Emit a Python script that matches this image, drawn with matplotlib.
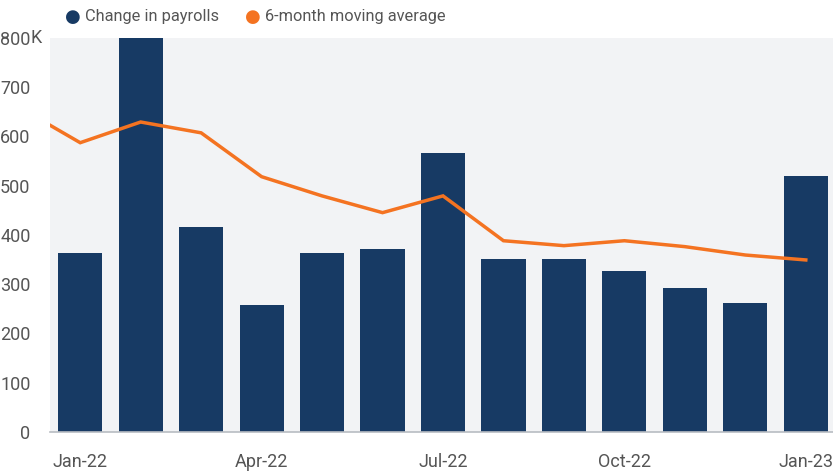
import numpy as np
import matplotlib
matplotlib.use('Agg')
import matplotlib.pyplot as plt
import matplotlib.transforms as mtransforms

#------------------------------
months   = ['Jan-22', 'Feb-22', 'Mar-22', 'Apr-22', 'May-22', 'Jun-22', 'Jul-22',
            'Aug-22', 'Sep-22', 'Oct-22', 'Nov-22', 'Dec-22', 'Jan-23']
payrolls = [364, 904, 416, 258, 363, 372, 566, 351, 351, 327, 292, 262, 520]
# moving average, first entry is Dec-21 (drawn off the left edge)
ma_months = ['Dec-21'] + months
moving_avg = [658, 587, 629, 607, 518, 479, 445, 479, 388, 378, 388, 376, 359, 349]
tick_months = ['Jan-22', 'Apr-22', 'Jul-22', 'Oct-22', 'Jan-23']
yticks = [0, 100, 200, 300, 400, 500, 600, 700, 800]
#------------------------------

BAR = '#173a64'
ORANGE = '#f47321'
TXT = '#555555'

plt.rcParams['font.family'] = ['Roboto', 'DejaVu Sans']

fig = plt.figure(figsize=(8.33, 4.72), dpi=100)
ax = fig.add_axes([0.06, 0.085, 0.94, 0.835])
ax.set_facecolor('#f2f3f5')

x = np.arange(len(months))
ax.bar(x, payrolls, width=0.73, color=BAR, zorder=2)
xm = np.arange(len(ma_months)) - 1
ax.plot(xm, moving_avg, color=ORANGE, lw=2.5, zorder=3, solid_joinstyle='miter')

ax.set_xlim(-0.5, 12.45)
ax.set_ylim(0, 800)
ax.set_yticks(yticks)
ax.set_yticklabels([str(v) for v in yticks])
ax.set_xticks([months.index(m) for m in tick_months])
ax.set_xticklabels(tick_months)
ax.tick_params(axis='both', length=0, labelsize=13, colors=TXT)
ax.tick_params(axis='x', pad=15)
ax.tick_params(axis='y', pad=14)

trans = mtransforms.blended_transform_factory(ax.transAxes, ax.transData)
ax.annotate('K', xy=(0, 800), xycoords=trans, xytext=(-14, 0), textcoords='offset points',
            ha='left', va='center', fontsize=13, color=TXT)

for s in ['top', 'right', 'left']:
    ax.spines[s].set_visible(False)
ax.spines['bottom'].set_color('#b8bcc2')
ax.spines['bottom'].set_linewidth(1.2)

# legend
fig.text(0.088, 0.965, '\u25CF', color=BAR, fontsize=13, ha='center', va='center')
fig.text(0.102, 0.965, 'Change in payrolls', color=TXT, fontsize=11.8, ha='left', va='center')
fig.text(0.303, 0.965, '\u25CF', color=ORANGE, fontsize=13, ha='center', va='center')
fig.text(0.318, 0.965, '6-month moving average', color=TXT, fontsize=11.8, ha='left', va='center')

fig.savefig('out.png', dpi=100)
